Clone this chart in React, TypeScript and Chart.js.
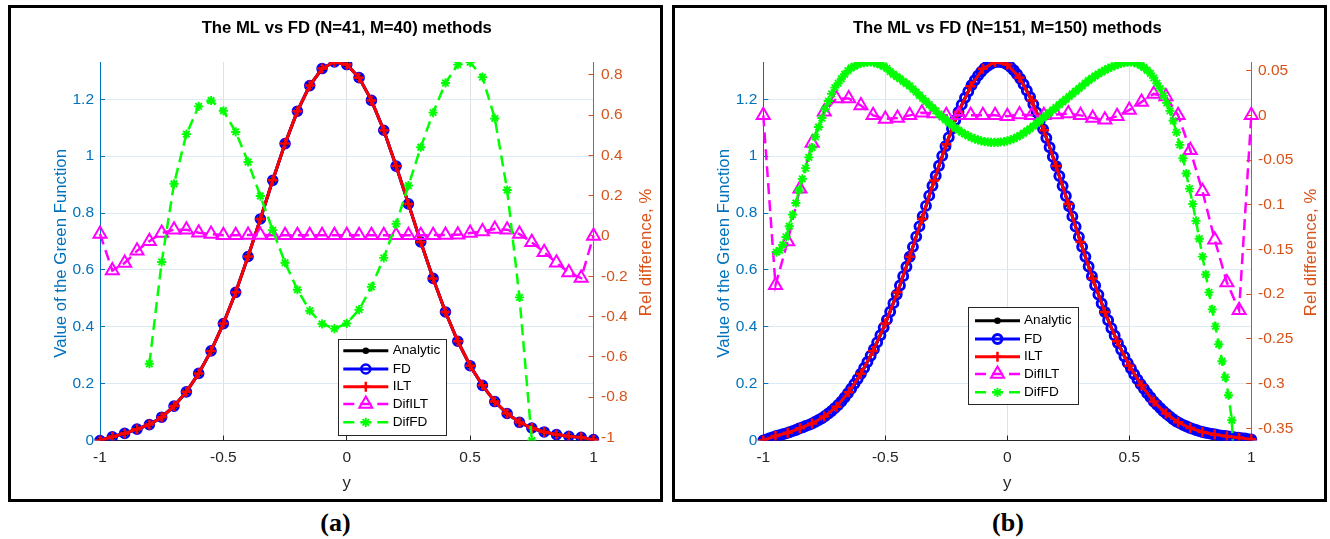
import React, { useEffect, useRef } from "react";
import { Chart, registerables } from "chart.js";

Chart.register(...registerables);

// ---------------- data ----------------
const X41 = [-1, -0.95, -0.9, -0.85, -0.8, -0.75, -0.7, -0.65, -0.6, -0.55, -0.5, -0.45, -0.4, -0.35, -0.3, -0.25, -0.2, -0.15, -0.1, -0.05, 0, 0.05, 0.1, 0.15, 0.2, 0.25, 0.3, 0.35, 0.4, 0.45, 0.5, 0.55, 0.6, 0.65, 0.7, 0.75, 0.8, 0.85, 0.9, 0.95, 1];

const X151 = [
  -1, -0.9867, -0.9733, -0.96, -0.9467, -0.9333, -0.92, -0.9067, -0.8933, -0.88,
  -0.8667, -0.8533, -0.84, -0.8267, -0.8133, -0.8, -0.7867, -0.7733, -0.76, -0.7467,
  -0.7333, -0.72, -0.7067, -0.6933, -0.68, -0.6667, -0.6533, -0.64, -0.6267, -0.6133,
  -0.6, -0.5867, -0.5733, -0.56, -0.5467, -0.5333, -0.52, -0.5067, -0.4933, -0.48,
  -0.4667, -0.4533, -0.44, -0.4267, -0.4133, -0.4, -0.3867, -0.3733, -0.36, -0.3467,
  -0.3333, -0.32, -0.3067, -0.2933, -0.28, -0.2667, -0.2533, -0.24, -0.2267, -0.2133,
  -0.2, -0.1867, -0.1733, -0.16, -0.1467, -0.1333, -0.12, -0.1067, -0.0933, -0.08,
  -0.0667, -0.0533, -0.04, -0.0267, -0.0133, 0, 0.0133, 0.0267, 0.04, 0.0533,
  0.0667, 0.08, 0.0933, 0.1067, 0.12, 0.1333, 0.1467, 0.16, 0.1733, 0.1867,
  0.2, 0.2133, 0.2267, 0.24, 0.2533, 0.2667, 0.28, 0.2933, 0.3067, 0.32,
  0.3333, 0.3467, 0.36, 0.3733, 0.3867, 0.4, 0.4133, 0.4267, 0.44, 0.4533,
  0.4667, 0.48, 0.4933, 0.5067, 0.52, 0.5333, 0.5467, 0.56, 0.5733, 0.5867,
  0.6, 0.6133, 0.6267, 0.64, 0.6533, 0.6667, 0.68, 0.6933, 0.7067, 0.72,
  0.7333, 0.7467, 0.76, 0.7733, 0.7867, 0.8, 0.8133, 0.8267, 0.84, 0.8533,
  0.8667, 0.88, 0.8933, 0.9067, 0.92, 0.9333, 0.9467, 0.96, 0.9733, 0.9867,
  1,
];

// panel (a): N=41
const GREEN_A = [0, 0.013, 0.025, 0.04, 0.056, 0.082, 0.121, 0.171, 0.236, 0.315, 0.411, 0.521, 0.647, 0.779, 0.915, 1.044, 1.158, 1.248, 1.308, 1.331, 1.322, 1.276, 1.196, 1.091, 0.965, 0.832, 0.698, 0.57, 0.452, 0.349, 0.263, 0.194, 0.137, 0.095, 0.064, 0.044, 0.03, 0.021, 0.015, 0.011, 0.003];
const DIFILT_A = [0.01, -0.172, -0.134, -0.074, -0.026, 0.014, 0.031, 0.031, 0.016, 0.009, 0.004, 0.004, 0.005, 0.005, 0.004, 0.004, 0.004, 0.004, 0.004, 0.004, 0.004, 0.004, 0.004, 0.004, 0.004, 0.004, 0.004, 0.004, 0.005, 0.006, 0.014, 0.022, 0.034, 0.031, 0.009, -0.031, -0.081, -0.133, -0.181, -0.209, 0];
const DIFFD_A = [null, null, null, null, -0.634, -0.129, 0.259, 0.505, 0.643, 0.672, 0.621, 0.516, 0.367, 0.198, 0.029, -0.133, -0.267, -0.371, -0.436, -0.46, -0.434, -0.366, -0.253, -0.109, 0.06, 0.25, 0.44, 0.612, 0.759, 0.85, 0.861, 0.788, 0.583, 0.228, -0.305, -1.015, null, null, null, null, null];

// panel (b): N=151
const GREEN_B = [0, 0.016, 0.027, 0.043, 0.06, 0.084, 0.119, 0.17, 0.235, 0.315, 0.411, 0.521, 0.646, 0.779, 0.914, 1.042, 1.155, 1.246, 1.307, 1.331, 1.322, 1.276, 1.196, 1.091, 0.965, 0.832, 0.698, 0.57, 0.452, 0.349, 0.263, 0.194, 0.137, 0.095, 0.064, 0.044, 0.03, 0.021, 0.015, 0.01, 0.004];
const FD_B = [
  0, 0.004, 0.008, 0.012, 0.016, 0.019, 0.022, 0.025, 0.029, 0.033,
  0.037, 0.042, 0.046, 0.051, 0.055, 0.06, 0.066, 0.072, 0.078, 0.086,
  0.095, 0.104, 0.114, 0.125, 0.137, 0.151, 0.166, 0.182, 0.199, 0.216,
  0.235, 0.255, 0.276, 0.298, 0.321, 0.345, 0.37, 0.397, 0.425, 0.453,
  0.483, 0.513, 0.545, 0.578, 0.611, 0.646, 0.681, 0.717, 0.753, 0.789,
  0.825, 0.861, 0.896, 0.931, 0.966, 1.001, 1.035, 1.066, 1.096, 1.126,
  1.155, 1.181, 1.205, 1.227, 1.249, 1.267, 1.283, 1.297, 1.309, 1.318,
  1.325, 1.33, 1.332, 1.331, 1.328, 1.322, 1.313, 1.302, 1.288, 1.272,
  1.253, 1.231, 1.208, 1.182, 1.154, 1.125, 1.095, 1.064, 1.031, 0.998,
  0.965, 0.93, 0.895, 0.86, 0.824, 0.788, 0.752, 0.716, 0.681, 0.646,
  0.612, 0.578, 0.545, 0.513, 0.482, 0.452, 0.423, 0.395, 0.369, 0.343,
  0.319, 0.295, 0.273, 0.253, 0.233, 0.215, 0.198, 0.182, 0.166, 0.152,
  0.137, 0.126, 0.114, 0.103, 0.093, 0.084, 0.075, 0.067, 0.061, 0.055,
  0.05, 0.045, 0.041, 0.037, 0.033, 0.03, 0.027, 0.025, 0.023, 0.021,
  0.019, 0.017, 0.016, 0.014, 0.013, 0.011, 0.01, 0.008, 0.007, 0.005,
  0.004,
];
const DIFILT_B = [0, -0.19, -0.141, -0.082, -0.031, 0.004, 0.019, 0.019, 0.011, 0, -0.004, -0.003, 0, 0.003, 0.002, 0, 0, 0, 0, 0, -0.001, 0.001, 0, 0, 0.001, 0.002, 0, -0.003, -0.005, -0.001, 0.006, 0.015, 0.024, 0.021, 0, -0.039, -0.085, -0.139, -0.187, -0.218, 0];
const DIFFD_B = [
  null, null, null, null, -0.153, -0.151, -0.145, -0.136, -0.124, -0.111,
  -0.098, -0.084, -0.071, -0.059, -0.047, -0.036, -0.024, -0.013, -0.003, 0.007,
  0.016, 0.024, 0.031, 0.036, 0.041, 0.046, 0.05, 0.053, 0.055, 0.057,
  0.058, 0.059, 0.0595, 0.0597, 0.059, 0.058, 0.0565, 0.055, 0.0525, 0.049,
  0.046, 0.0435, 0.041, 0.038, 0.0355, 0.033, 0.0295, 0.026, 0.0225, 0.019,
  0.0155, 0.012, 0.0085, 0.005, 0.0015, -0.002, -0.005, -0.008, -0.011, -0.014,
  -0.0165, -0.019, -0.021, -0.023, -0.0248, -0.0263, -0.0275, -0.0285, -0.0293, -0.0298,
  -0.0301, -0.0302, -0.0301, -0.0298, -0.0293, -0.0285, -0.0274, -0.026, -0.0243, -0.0223,
  -0.02, -0.0175, -0.0148, -0.012, -0.009, -0.006, -0.003, 0, 0.003, 0.006,
  0.009, 0.012, 0.015, 0.018, 0.021, 0.024, 0.027, 0.03, 0.033, 0.036,
  0.039, 0.0415, 0.044, 0.0465, 0.0485, 0.0505, 0.0525, 0.054, 0.0555, 0.057,
  0.058, 0.059, 0.0595, 0.0597, 0.059, 0.0578, 0.056, 0.0535, 0.0505, 0.047,
  0.042, 0.036, 0.03, 0.022, 0.014, 0.005, -0.006, -0.019, -0.033, -0.048,
  -0.065, -0.082, -0.099, -0.118, -0.138, -0.158, -0.178, -0.198, -0.217, -0.236,
  -0.256, -0.275, -0.293, -0.313, -0.341, -0.42, null, null, null, null,
  null,
];

// ticks & labels
const X_TICKS = [-1, -0.5, 0, 0.5, 1];
const LEFT_TICKS = [0, 0.2, 0.4, 0.6, 0.8, 1, 1.2];
const RIGHT_TICKS_A = [-1, -0.8, -0.6, -0.4, -0.2, 0, 0.2, 0.4, 0.6, 0.8];
const RIGHT_TICKS_B = [-0.35, -0.3, -0.25, -0.2, -0.15, -0.1, -0.05, 0, 0.05];
const SERIES = ["Analytic", "FD", "ILT", "DifILT", "DifFD"];
const TITLE_A = "The ML vs FD (N=41, M=40) methods";
const TITLE_B = "The ML vs FD (N=151, M=150) methods";
const X_TITLE = "y";
const LEFT_TITLE = "Value of the Green Function";
const RIGHT_TITLE = "Rel difference, %";
const LEFT_RANGE = [0, 1.331];
const RIGHT_RANGE_A = [-1.015, 0.863];
const RIGHT_RANGE_B = [-0.3637, 0.0597];

// ---------------- styles ----------------
const FONT = '"Liberation Sans", Arial, Helvetica, sans-serif';
const BLUE_AX = "#0072bd";
const ORANGE_AX = "#d95319";
const DARK = "#262626";
const TICK_SIZE = 15.5;
const LABEL_SIZE = 16.8;
const TITLE_SIZE = 16.7;
const LEGEND_SIZE = 13.6;
const CANVAS_W = 649;
const CANVAS_H = 491;

const pts = (xs: number[], ys: (number | null)[]) => xs.map((x, i) => ({ x, y: ys[i] }));
const fmt = (v: number) => String(Math.round(v * 1000) / 1000);

function drawMarker(ctx: CanvasRenderingContext2D, style: string, x: number, y: number, r: number, color: string, lw: number, fill: boolean) {
  ctx.save();
  ctx.setLineDash([]);
  ctx.strokeStyle = color;
  ctx.fillStyle = color;
  ctx.lineWidth = lw;
  ctx.beginPath();
  if (style === "circle") {
    ctx.arc(x, y, r, 0, Math.PI * 2);
    if (fill) ctx.fill();
    if (lw > 0) ctx.stroke();
  } else if (style === "cross") {
    ctx.moveTo(x - r, y); ctx.lineTo(x + r, y);
    ctx.moveTo(x, y - r); ctx.lineTo(x, y + r);
    ctx.stroke();
  } else if (style === "triangle") {
    let a = 0;
    ctx.moveTo(x + Math.sin(a) * r, y - Math.cos(a) * r);
    a += (2 * Math.PI) / 3;
    ctx.lineTo(x + Math.sin(a) * r, y - Math.cos(a) * r);
    a += (2 * Math.PI) / 3;
    ctx.lineTo(x + Math.sin(a) * r, y - Math.cos(a) * r);
    ctx.closePath();
    ctx.stroke();
  } else if (style === "star") {
    ctx.moveTo(x - r, y); ctx.lineTo(x + r, y);
    ctx.moveTo(x, y - r); ctx.lineTo(x, y + r);
    const d = r * Math.SQRT1_2;
    ctx.moveTo(x - d, y - d); ctx.lineTo(x + d, y + d);
    ctx.moveTo(x - d, y + d); ctx.lineTo(x + d, y - d);
    ctx.stroke();
  }
  ctx.restore();
}

type Spec = {
  title: string;
  leftW: number;
  rightW: number;
  rightPad: number;
  rightRange: number[];
  rightTicks: number[];
  leftTitleX: number;
  rightTitleX: number;
  legend: { x: number; y: number; w: number; h: number; rows: number[]; x0: number; x1: number; tx: number };
  datasets: any[];
};

function overlayPlugin(spec: Spec) {
  return {
    id: "overlay",
    afterDraw(chart: any) {
      const ctx: CanvasRenderingContext2D = chart.ctx;
      const ca = chart.chartArea;
      const cx = (ca.left + ca.right) / 2;
      ctx.save();
      // title
      ctx.font = `bold ${TITLE_SIZE}px ${FONT}`;
      ctx.fillStyle = "#000";
      ctx.textAlign = "center";
      ctx.textBaseline = "middle";
      ctx.fillText(spec.title, cx, 20);
      // x title
      ctx.font = `${LABEL_SIZE}px ${FONT}`;
      ctx.fillStyle = DARK;
      ctx.textBaseline = "alphabetic";
      ctx.fillText(X_TITLE, cx, 479.5);
      // left title
      ctx.save();
      ctx.translate(spec.leftTitleX, 245.3);
      ctx.rotate(-Math.PI / 2);
      ctx.fillStyle = BLUE_AX;
      ctx.fillText(LEFT_TITLE, 0, 0);
      ctx.restore();
      // right title
      ctx.save();
      ctx.translate(spec.rightTitleX, 244.4);
      ctx.rotate(-Math.PI / 2);
      ctx.fillStyle = ORANGE_AX;
      ctx.fillText(RIGHT_TITLE, 0, 0);
      ctx.restore();
      // legend
      const lg = spec.legend;
      ctx.fillStyle = "#fff";
      ctx.fillRect(lg.x, lg.y, lg.w, lg.h);
      ctx.strokeStyle = DARK;
      ctx.lineWidth = 1;
      ctx.strokeRect(Math.round(lg.x) + 0.5, Math.round(lg.y) + 0.5, Math.round(lg.w), Math.round(lg.h));
      chart.data.datasets.forEach((ds: any, i: number) => {
        const y = lg.rows[i];
        ctx.save();
        ctx.setLineDash(ds.borderDash || []);
        ctx.strokeStyle = ds.borderColor;
        ctx.lineWidth = ds.borderWidth;
        ctx.beginPath();
        ctx.moveTo(lg.x0, y);
        ctx.lineTo(lg.x1, y);
        ctx.stroke();
        ctx.restore();
        drawMarker(ctx, ds.pointStyle, (lg.x0 + lg.x1) / 2, y, ds.pointRadius, ds.pointBorderColor, ds.pointBorderWidth, ds.pointBackgroundColor !== "rgba(0,0,0,0)");
        ctx.fillStyle = "#000";
        ctx.font = `${LEGEND_SIZE}px ${FONT}`;
        ctx.textAlign = "left";
        ctx.textBaseline = "middle";
        ctx.fillText(ds.label, lg.tx, y);
      });
      ctx.restore();
    },
  };
}

function lineDs(label: string, data: any[], color: string, opts: any) {
  return {
    label,
    data,
    borderColor: color,
    backgroundColor: color,
    pointBorderColor: color,
    pointBackgroundColor: "rgba(0,0,0,0)",
    tension: 0,
    spanGaps: false,
    clip: { left: 10, right: 10, top: 0, bottom: 0 },
    ...opts,
  };
}

function buildDatasets(fdWidth: number, gx: number[], analytic: number[], fdx: number[], fd: number[], ilt: number[], difIltX: number[], difIlt: (number | null)[], difFdX: number[], difFd: (number | null)[]) {
  return [
    lineDs(SERIES[0], pts(gx, analytic), "#000000", { borderWidth: 3, pointStyle: "circle", pointRadius: 3.3, pointBorderWidth: 0, pointBackgroundColor: "#000000", yAxisID: "y", order: 5 }),
    lineDs(SERIES[1], pts(fdx, fd), "#0000ff", { borderWidth: 3, pointStyle: "circle", pointRadius: 4.5, pointBorderWidth: fdWidth, yAxisID: "y", order: 4 }),
    lineDs(SERIES[2], pts(gx, ilt), "#ff0000", { borderWidth: 3, pointStyle: "cross", pointRadius: 5, pointBorderWidth: 2.5, yAxisID: "y", order: 3 }),
    lineDs(SERIES[3], pts(difIltX, difIlt), "#ff00ff", { borderWidth: 2.5, borderDash: [11, 6], pointStyle: "triangle", pointRadius: 7.5, pointBorderWidth: 2, yAxisID: "y1", order: 2 }),
    lineDs(SERIES[4], pts(difFdX, difFd), "#00ff00", { borderWidth: 2.5, borderDash: [11, 6], pointStyle: "star", pointRadius: 4.6, pointBorderWidth: 1.9, yAxisID: "y1", order: 1 }),
  ];
}

function makeConfig(spec: Spec): any {
  return {
    type: "line",
    data: { datasets: spec.datasets },
    plugins: [overlayPlugin(spec)],
    options: {
      animation: false,
      responsive: false,
      devicePixelRatio: 1,
      events: [],
      layout: { padding: { top: 54, left: 0, right: 0, bottom: 0 } },
      plugins: { legend: { display: false }, title: { display: false }, tooltip: { enabled: false } },
      scales: {
        x: {
          type: "linear",
          position: "bottom",
          min: -1,
          max: 1,
          afterBuildTicks: (s: any) => { s.ticks = X_TICKS.map((v) => ({ value: v })); },
          afterFit: (s: any) => { s.height = 58.5; },
          grid: { color: "#e1e1e1", lineWidth: 1, drawTicks: true, tickLength: -5, tickColor: DARK, tickWidth: 1 },
          border: { display: true, color: DARK, width: 1 },
          ticks: { color: DARK, font: { family: FONT, size: TICK_SIZE }, padding: 13.2, maxRotation: 0, autoSkip: false, callback: (v: any) => fmt(Number(v)) },
        },
        y: {
          type: "linear",
          position: "left",
          min: LEFT_RANGE[0],
          max: LEFT_RANGE[1],
          afterBuildTicks: (s: any) => { s.ticks = LEFT_TICKS.map((v) => ({ value: v })); },
          afterFit: (s: any) => { s.width = spec.leftW; },
          grid: { color: "#dbeaf5", lineWidth: 1, drawTicks: true, tickLength: -5, tickColor: BLUE_AX, tickWidth: 1 },
          border: { display: true, color: BLUE_AX, width: 1 },
          ticks: { color: BLUE_AX, font: { family: FONT, size: TICK_SIZE }, padding: 11, autoSkip: false, callback: (v: any) => fmt(Number(v)) },
        },
        y1: {
          type: "linear",
          position: "right",
          min: spec.rightRange[0],
          max: spec.rightRange[1],
          afterBuildTicks: (s: any) => { s.ticks = spec.rightTicks.map((v) => ({ value: v })); },
          afterFit: (s: any) => { s.width = spec.rightW; },
          grid: { drawOnChartArea: false, color: ORANGE_AX, drawTicks: true, tickLength: -5, tickColor: ORANGE_AX, tickWidth: 1 },
          border: { display: true, color: ORANGE_AX, width: 1 },
          ticks: { color: ORANGE_AX, font: { family: FONT, size: TICK_SIZE }, padding: spec.rightPad, autoSkip: false, callback: (v: any) => fmt(Number(v)) },
        },
      },
    },
  };
}

const SPEC_A: Spec = {
  title: TITLE_A,
  leftW: 89,
  rightW: 66.5,
  rightPad: 12.5,
  rightRange: RIGHT_RANGE_A,
  rightTicks: RIGHT_TICKS_A,
  leftTitleX: 54.9,
  rightTitleX: 639.5,
  legend: { x: 327.3, y: 331, w: 108.4, h: 96, rows: [342.7, 361, 378.7, 396, 414.3], x0: 332.3, x1: 377.3, tx: 381.7 },
  datasets: buildDatasets(2.6, X41, GREEN_A, X41, GREEN_A, GREEN_A, X41, DIFILT_A, X41, DIFFD_A),
};

const SPEC_B: Spec = {
  title: TITLE_B,
  leftW: 88.3,
  rightW: 72.7,
  rightPad: 11.7,
  rightRange: RIGHT_RANGE_B,
  rightTicks: RIGHT_TICKS_B,
  leftTitleX: 53.8,
  rightTitleX: 641.4,
  legend: { x: 293.3, y: 299.3, w: 110, h: 97, rows: [312.7, 331, 348.7, 366, 384.3], x0: 300, x1: 345, tx: 349 },
  datasets: buildDatasets(2.9, X41, GREEN_B, X151, FD_B, GREEN_B, X41, DIFILT_B, X151, DIFFD_B),
};

function Panel({ spec, left }: { spec: Spec; left: number }) {
  const ref = useRef<HTMLCanvasElement>(null);
  useEffect(() => {
    const chart = new Chart(ref.current as HTMLCanvasElement, makeConfig(spec));
    return () => chart.destroy();
  }, [spec]);
  return (
    <div
      style={{
        position: "absolute",
        left,
        top: 5,
        width: 655,
        height: 497,
        boxSizing: "border-box",
        border: "3px solid #000",
        background: "#fff",
      }}
    >
      <canvas
        ref={ref}
        width={CANVAS_W}
        height={CANVAS_H}
        style={{ position: "absolute", left: 0, top: 0, width: CANVAS_W, height: CANVAS_H }}
      />
    </div>
  );
}

const captionStyle: React.CSSProperties = {
  position: "absolute",
  top: 508,
  height: 30,
  lineHeight: "30px",
  textAlign: "center",
  font: 'bold 26px "Liberation Serif", "DejaVu Serif", serif',
  color: "#000",
};

export default function App() {
  return (
    <div style={{ position: "absolute", left: 0, top: 0, width: 1330, height: 539, background: "#fff", overflow: "hidden" }}>
      <Panel spec={SPEC_A} left={8} />
      <Panel spec={SPEC_B} left={672} />
      <div style={{ ...captionStyle, left: 0, width: 671 }}>(a)</div>
      <div style={{ ...captionStyle, left: 686, width: 644 }}>(b)</div>
    </div>
  );
}
